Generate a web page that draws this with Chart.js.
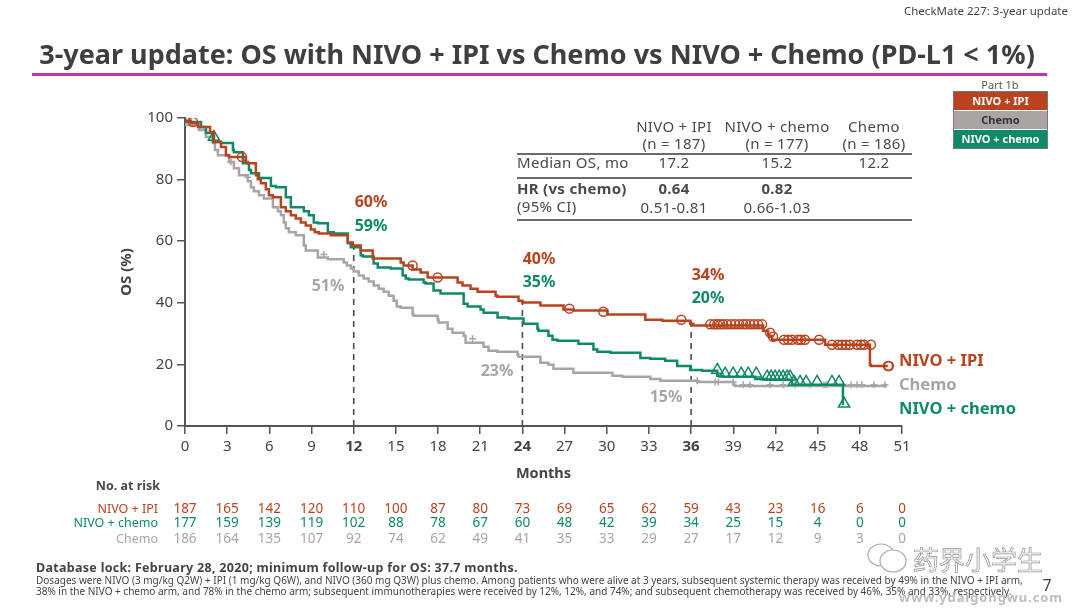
<!DOCTYPE html>
<html>
<head>
<meta charset="utf-8">
<script src="https://cdn.jsdelivr.net/npm/chart.js@4/dist/chart.umd.min.js"></script>
<style>
  html, body { margin: 0; padding: 0; background: #fff; }
  body { width: 1080px; height: 608px; position: relative; overflow: hidden; font-family: "Noto Sans", sans-serif; color: #4a4a4a; }
  canvas { position: absolute; left: 0; top: 0; }
  .t { position: absolute; white-space: nowrap; transform: translate(-50%, -50%); line-height: 1; }
  .l { position: absolute; white-space: nowrap; line-height: 1; }
  .b { font-weight: 700; }
  .pct { font-size: 16px; font-weight: 700; }
  .end { font-size: 16.5px; font-weight: 700; }
  .rule { position: absolute; left: 517px; width: 395px; height: 2px; background: #6b6b6b; }
  .tab { font-size: 15px; letter-spacing: .3px; }
  .box { position: absolute; left: 954px; width: 93px; height: 18px; line-height: 18px; text-align: center; font-size: 11px; font-weight: 700; border: 0; }
</style>
</head>
<body>
<canvas id="km" width="1080" height="608"></canvas>

<!-- 헤더 -->
<div class="l" style="right:12px;top:5px;font-size:11.5px;color:#444">CheckMate 227: 3-year update</div>
<div class="t b" id="title" style="left:537px;top:53px;font-size:27px;color:#3f3f3f">3-year update: OS with NIVO + IPI vs Chemo vs NIVO + Chemo (PD-L1 &lt; 1%)</div>
<div style="position:absolute;left:32px;top:73px;width:1015px;height:3px;background:#c032b8"></div>

<!-- 범례 박스 -->
<div class="t" style="left:1000px;top:84px;font-size:11px;color:#555">Part 1b</div>
<div style="position:absolute;left:953px;top:91px;width:93px;height:56px;border:1px solid #777"></div>
<div class="box" style="top:92px;background:#b9431f;color:#fff">NIVO + IPI</div>
<div class="box" style="top:111px;background:#aaa4a3;color:#333">Chemo</div>
<div class="box" style="top:130px;background:#0f8a68;color:#fff">NIVO + chemo</div>

<!-- 요약 표 -->
<div class="t tab" style="left:674px;top:126px">NIVO + IPI</div>
<div class="t tab" style="left:777px;top:126px">NIVO + chemo</div>
<div class="t tab" style="left:874px;top:126px">Chemo</div>
<div class="t tab" style="left:674px;top:143px">(n = 187)</div>
<div class="t tab" style="left:777px;top:143px">(n = 177)</div>
<div class="t tab" style="left:874px;top:143px">(n = 186)</div>
<div class="rule" style="top:153px"></div>
<div class="l tab" style="left:517px;top:155px">Median OS, mo</div>
<div class="t tab" style="left:674px;top:162px">17.2</div>
<div class="t tab" style="left:777px;top:162px">15.2</div>
<div class="t tab" style="left:874px;top:162px">12.2</div>
<div class="rule" style="top:177px"></div>
<div class="l tab b" style="left:517px;top:181px">HR (vs chemo)</div>
<div class="t tab b" style="left:674px;top:188px">0.64</div>
<div class="t tab b" style="left:777px;top:188px">0.82</div>
<div class="l tab" style="left:517px;top:199px">(95% CI)</div>
<div class="t tab" style="left:674px;top:207px">0.51-0.81</div>
<div class="t tab" style="left:777px;top:207px">0.66-1.03</div>
<div class="rule" style="top:219px"></div>

<!-- 랜드마크 생존율 -->
<div class="t pct" style="left:371px;top:201px;color:#b9431f">60%</div>
<div class="t pct" style="left:371px;top:225px;color:#0f8a68">59%</div>
<div class="t pct" style="left:328px;top:285px;color:#a9a5a5">51%</div>
<div class="t pct" style="left:539px;top:258px;color:#b9431f">40%</div>
<div class="t pct" style="left:539px;top:281px;color:#0f8a68">35%</div>
<div class="t pct" style="left:497px;top:370px;color:#a9a5a5">23%</div>
<div class="t pct" style="left:708px;top:274px;color:#b9431f">34%</div>
<div class="t pct" style="left:708px;top:297px;color:#0f8a68">20%</div>
<div class="t pct" style="left:666px;top:396px;color:#a9a5a5">15%</div>
<div class="l end" style="left:899px;top:352px;color:#b9431f">NIVO + IPI</div>
<div class="l end" style="left:899px;top:376px;color:#a9a5a5">Chemo</div>
<div class="l end" style="left:899px;top:400px;color:#0f8a68">NIVO + chemo</div>

<!-- 각주 -->
<div class="l b" style="left:36px;top:562px;font-size:12.5px;letter-spacing:.3px;color:#444">Database lock: February 28, 2020; minimum follow-up for OS: 37.7 months.</div>
<div class="l" style="left:36px;top:575px;font-size:10px;color:#444">Dosages were NIVO (3 mg/kg Q2W) + IPI (1 mg/kg Q6W), and NIVO (360 mg Q3W) plus chemo. Among patients who were alive at 3 years, subsequent systemic therapy was received by 49% in the NIVO + IPI arm,</div>
<div class="l" style="left:36px;top:586px;font-size:10px;color:#444">38% in the NIVO + chemo arm, and 78% in the chemo arm; subsequent immunotherapies were received by 12%, 12%, and 74%; and subsequent chemotherapy was received by 46%, 35% and 33%, respectively.</div>
<div class="t" style="left:1047px;top:585px;font-size:16px;color:#444">7</div>

<!-- 워터마크 -->
<svg style="position:absolute;left:866px;top:542px" width="44" height="34" viewBox="0 0 44 34" fill="#fff" stroke="#aaa" stroke-width="1.2">
  <ellipse cx="15" cy="13" rx="13" ry="11"/><ellipse cx="27" cy="19" rx="13" ry="11"/>
</svg>
<div class="t" style="left:978px;top:559px;font-size:26px;color:#fff;-webkit-text-stroke:0.7px #8f8f8f;font-family:'Noto Sans CJK SC'">药界小学生</div>
<div class="t b" style="left:981px;top:597px;font-size:13px;color:#bdbdbd;letter-spacing:.9px">www.ydaigongwu.com</div>

<script>
// 색상
const RED = '#b9431f';
const GREEN = '#0f8a68';
const GRAY = '#a9a5a5';
const AXIS = '#555555';

// ── 위험 환자 수 ──────────────────────────────────────────────────────────
const riskMonths = [0, 3, 6, 9, 12, 15, 18, 21, 24, 27, 30, 33, 36, 39, 42, 45, 48, 51];
const riskIpi   = [187, 165, 142, 120, 110, 100, 87, 80, 73, 69, 65, 62, 59, 43, 23, 16, 6, 0];
const riskNivoChemo = [177, 159, 139, 119, 102, 88, 78, 67, 60, 48, 42, 39, 34, 25, 15, 4, 0, 0];
const riskChemo = [186, 164, 135, 107, 92, 74, 62, 49, 41, 35, 33, 29, 27, 17, 12, 9, 3, 0];

// ── 생존 곡선 (개월, OS %) ────────────────────────────────────────────────
const ipiT = [0, 0.43, 0.92, 1.78, 2.06, 2.56, 2.91, 3.13, 4.33, 4.47, 5.04, 5.18, 5.4, 5.75, 5.97, 6.25, 6.82, 7.17, 7.53, 7.88, 8.24, 8.59, 8.95, 9.23, 9.52, 10.37, 11.58, 11.93, 12.5, 13.35, 13.71, 15.34, 15.55, 16.19, 16.76, 17.26, 17.68, 19.39, 19.74, 20.31, 20.81, 22.09, 22.23, 23.72, 24.0, 25.28, 25.4, 26.92, 27.63, 30.04, 30.82, 32.74, 33.95, 35.94, 36.15, 41.12, 41.48, 41.76, 42.47, 45.53, 45.88, 48.72, 48.79, 49.99];
const ipiS = [100, 99.1, 98.4, 97.1, 95.4, 92.2, 90.6, 87.9, 87.3, 85.7, 85.3, 81.4, 80.1, 78.8, 76.9, 74.9, 74.3, 71.0, 69.7, 68.4, 67.4, 66.1, 65.1, 63.8, 62.9, 62.5, 61.9, 59.6, 58.6, 57.0, 54.4, 54.4, 53.1, 52.1, 50.8, 49.8, 48.2, 48.2, 46.6, 45.6, 44.6, 43.6, 42.3, 42.0, 40.7, 40.1, 39.1, 39.1, 37.8, 37.5, 36.2, 36.2, 34.5, 34.2, 33.2, 32.6, 30.9, 29.3, 28.0, 28.0, 26.4, 26.4, 19.9, 19.5];

const nivoChemoT = [0, 1.14, 1.49, 1.99, 2.56, 3.41, 3.48, 4.12, 4.55, 4.69, 5.26, 6.11, 6.46, 7.17, 7.53, 8.45, 8.81, 9.16, 9.45, 10.16, 10.58, 11.58, 11.79, 12.5, 12.64, 13.42, 13.71, 14.63, 15.48, 15.7, 15.91, 16.97, 17.12, 17.68, 18.18, 19.82, 20.1, 21.02, 21.24, 22.23, 23.01, 24.08, 25.07, 25.14, 25.85, 26.14, 26.49, 27.98, 29.05, 29.33, 30.26, 32.39, 33.1, 34.16, 35.01, 35.94, 36.79, 37.86, 38.28, 40.55, 41.41, 43.18, 43.25, 46.8, 46.88];
const nivoChemoS = [100, 98.7, 97.1, 95.1, 92.2, 91.9, 89.6, 88.9, 85.3, 83.1, 82.1, 80.5, 77.9, 77.5, 74.3, 71.0, 69.7, 68.4, 66.1, 65.8, 62.9, 62.5, 59.3, 58.0, 55.4, 55.0, 52.8, 51.5, 51.1, 48.9, 47.9, 47.6, 46.6, 46.3, 44.0, 43.0, 39.7, 38.8, 37.8, 36.8, 35.2, 34.9, 33.2, 31.6, 30.9, 29.3, 28.0, 27.7, 26.7, 24.8, 24.1, 23.8, 22.1, 21.8, 21.2, 19.5, 18.2, 17.9, 16.3, 16.0, 15.3, 15.0, 13.4, 13.4, 7.2];

const chemoT = [0, 0.99, 1.49, 1.99, 2.13, 2.34, 3.13, 3.48, 3.84, 4.47, 4.69, 4.9, 5.26, 5.61, 6.25, 6.61, 6.82, 7.03, 7.17, 7.39, 7.88, 8.45, 8.59, 9.45, 10.16, 11.29, 11.51, 11.79, 12.0, 12.36, 12.71, 13.07, 13.42, 13.78, 14.13, 14.49, 14.84, 15.06, 15.34, 16.19, 16.26, 17.97, 18.04, 18.68, 19.03, 19.82, 19.96, 21.24, 21.59, 22.23, 23.65, 23.72, 25.28, 25.85, 26.21, 27.63, 30.4, 31.11, 33.1, 33.81, 36.43, 38.99, 39.13, 49.93];
const chemoS = [100, 97.7, 96.1, 93.8, 91.9, 89.6, 87.9, 85.7, 83.7, 81.4, 79.5, 77.5, 76.2, 74.9, 73.9, 71.0, 69.7, 68.4, 66.1, 64.2, 62.9, 61.9, 58.6, 57.0, 54.7, 54.1, 53.1, 52.1, 51.1, 50.2, 48.9, 47.9, 46.9, 45.6, 44.6, 43.6, 42.3, 40.7, 38.8, 38.4, 36.2, 35.8, 34.5, 33.6, 31.6, 30.3, 29.3, 27.0, 25.7, 24.4, 24.1, 23.1, 22.5, 20.5, 19.9, 18.6, 17.3, 16.3, 16.0, 15.3, 14.7, 14.3, 13.4, 13.0];

// ── 중도절단 표시 ─────────────────────────────────────────────────────────
const ipiCensorT = [0.57, 4.05, 16.19, 17.97, 27.34, 29.76, 35.3, 37.36, 37.64, 37.86, 38.07, 38.28, 38.57, 38.85, 39.13, 39.42, 39.7, 39.91, 40.2, 40.48, 40.77, 41.05, 41.62, 41.83, 42.61, 42.9, 43.18, 43.61, 43.82, 44.1, 45.1, 46.02, 46.45, 46.73, 47.02, 47.3, 47.8, 48.08, 48.3, 48.79, 50.0, 50.07];
const ipiCensorS = [98.7, 87.3, 52.1, 48.2, 38.1, 37.1, 34.5, 33.0, 33.0, 33.0, 33.0, 33.0, 33.0, 33.0, 33.0, 33.0, 33.0, 33.0, 33.0, 33.0, 33.0, 33.0, 30.3, 29.0, 28.0, 28.0, 28.0, 28.0, 28.0, 28.0, 28.0, 26.4, 26.4, 26.4, 26.4, 26.4, 26.4, 26.4, 26.4, 26.4, 19.5, 19.5];

const nivoChemoCensorT = [0, 2.06, 37.86, 38.42, 38.99, 39.56, 40.06, 40.63, 41.41, 41.69, 41.97, 42.26, 42.54, 42.83, 43.04, 43.32, 43.75, 44.18, 44.96, 46.02, 46.52, 46.88];
const nivoChemoCensorS = [100, 93.8, 18.2, 17.0, 17.0, 17.0, 17.0, 17.0, 16.0, 16.0, 16.0, 16.0, 16.0, 16.0, 16.0, 14.3, 14.3, 14.3, 14.3, 14.3, 14.3, 7.2];

const chemoCensorT = [3.27, 4.47, 9.87, 20.45, 36.43, 37.71, 37.93, 38.99, 39.7, 40.2, 41.62, 42.54, 43.39, 44.46, 45.45, 45.6, 46.8, 47.37, 47.8, 48.15, 49.0, 49.79];
const chemoCensorS = [85.7, 80.8, 55.7, 28.3, 14.7, 14.3, 14.3, 14.3, 13.4, 13.4, 13.4, 13.4, 13.4, 13.4, 13.4, 13.4, 13.4, 13.4, 13.4, 13.4, 13.4, 13.4];

// ── 랜드마크 세로선 ───────────────────────────────────────────────────────
const landmarkT = [12, 24, 36];
const landmarkS = [59.6, 40.7, 34.2];

const toXY = (xs, ys) => xs.map((x, i) => ({ x, y: ys[i] }));

function curve(data, color) {
  return { data, borderColor: color, borderWidth: 2.5, stepped: 'after', pointRadius: 0, fill: false };
}

function censor(data, color, style, radius) {
  return {
    data, showLine: false, pointStyle: style, pointRadius: radius,
    pointBorderColor: color, pointBackgroundColor: 'transparent', pointBorderWidth: 1.5,
  };
}

const landmarks = landmarkT.map((t, i) => ({
  data: [{ x: t, y: 0 }, { x: t, y: landmarkS[i] }],
  borderColor: '#4a4a4a', borderWidth: 1.6, borderDash: [6, 5], pointRadius: 0,
}));

// 위험 환자 수 표 — x 눈금 위치에 맞춰 그림
const riskTable = {
  id: 'riskTable',
  afterDraw(chart) {
    const { ctx, scales: { x } } = chart;
    const rows = [
      ['NIVO + IPI', riskIpi, RED, 509],
      ['NIVO + chemo', riskNivoChemo, GREEN, 523],
      ['Chemo', riskChemo, GRAY, 539],
    ];
    ctx.save();
    ctx.textBaseline = 'middle';
    ctx.font = '700 12.5px "Noto Sans"';
    ctx.fillStyle = '#4a4a4a';
    ctx.textAlign = 'right';
    ctx.fillText('No. at risk', 160, 486);
    for (const [name, vals, color, y] of rows) {
      ctx.fillStyle = color;
      ctx.font = '12.5px "Noto Sans"';
      ctx.textAlign = 'right';
      ctx.fillText(name, 158, y);
      ctx.font = '13.5px "Noto Sans"';
      ctx.textAlign = 'center';
      riskMonths.forEach((m, i) => ctx.fillText(vals[i], x.getPixelForValue(m), y));
    }
    ctx.restore();
  },
};

const boldTicks = [12, 24, 36];

new Chart(document.getElementById('km'), {
  type: 'scatter',
  data: {
    datasets: [
      censor(toXY(ipiCensorT, ipiCensorS), RED, 'circle', 4.5),
      curve(toXY(ipiT, ipiS), RED),
      censor(toXY(nivoChemoCensorT, nivoChemoCensorS), GREEN, 'triangle', 6.5),
      curve(toXY(nivoChemoT, nivoChemoS), GREEN),
      censor(toXY(chemoCensorT, chemoCensorS), GRAY, 'cross', 3.5),
      curve(toXY(chemoT, chemoS), GRAY),
      ...landmarks,
    ].map(d => ({ showLine: true, ...d })),
  },
  plugins: [riskTable],
  options: {
    responsive: false,
    animation: false,
    devicePixelRatio: 1,
    layout: { padding: { left: 118, right: 178, top: 118, bottom: 125 } },
    plugins: { legend: { display: false }, tooltip: { enabled: false } },
    scales: {
      x: {
        type: 'linear', min: 0, max: 51,
        afterFit: s => { s.height = 57; },
        afterBuildTicks: s => { s.ticks = riskMonths.map(value => ({ value })); },
        border: { color: AXIS, width: 2 },
        grid: { drawOnChartArea: false, color: AXIS, lineWidth: 1.5, tickLength: 8 },
        ticks: {
          color: '#444', padding: 4, maxRotation: 0, autoSkip: false,
          font: ctx => ({ family: 'Noto Sans', size: 15, weight: ctx.tick && boldTicks.includes(ctx.tick.value) ? 'bold' : 'normal' }),
        },
        title: { display: true, text: 'Months', color: '#444', font: { family: 'Noto Sans', size: 14.5, weight: 'bold' }, padding: 0 },
      },
      y: {
        min: 0, max: 100,
        afterFit: s => { s.width = 67; },
        border: { color: AXIS, width: 2 },
        grid: { drawOnChartArea: false, color: AXIS, lineWidth: 1.5, tickLength: 8 },
        ticks: { stepSize: 20, color: '#444', padding: 4, font: { family: 'Noto Sans', size: 15 } },
        title: { display: true, text: 'OS (%)', color: '#444', font: { family: 'Noto Sans', size: 15, weight: 'bold' }, padding: 0 },
      },
    },
  },
});
</script>
</body>
</html>
